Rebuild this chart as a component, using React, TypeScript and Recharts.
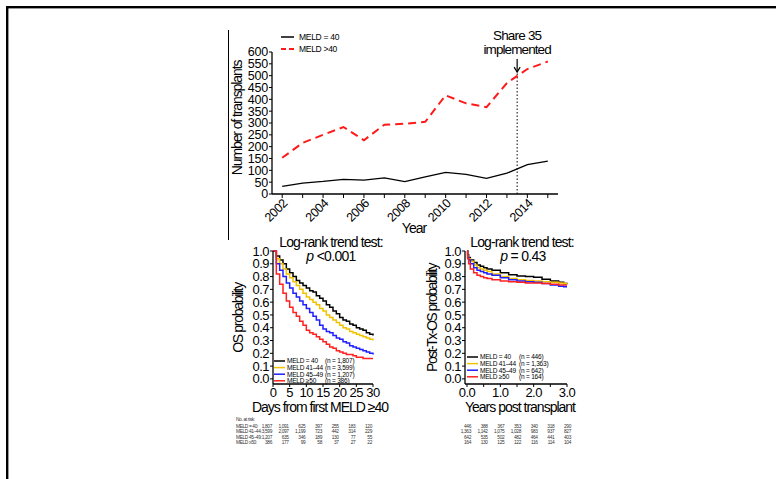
import { LineChart, Line, XAxis, YAxis, ReferenceLine, ReferenceDot } from "recharts";

const FONT = "'Liberation Sans', Arial, Helvetica, sans-serif";

// top panel: transplants per year
const years = [2002, 2003, 2004, 2005, 2006, 2007, 2008, 2009, 2010, 2011, 2012, 2013, 2014, 2015];
const txMeld40 = [32, 46, 53, 62, 59, 68, 52, 72, 91, 83, 66, 88, 124, 139];
const txMeldOver40 = [153, 216, 250, 283, 227, 293, 297, 305, 417, 383, 367, 469, 528, 560];
const countTicks = [0, 50, 100, 150, 200, 250, 300, 350, 400, 450, 500, 550, 600];
const share35Year = 2013.5;
const topSeries = ["MELD = 40", "MELD >40"];

// waitlist survival by day
const waitDays = [0, 1, 2, 3, 4, 5, 6, 7, 8, 9, 10, 11, 12, 13, 14, 15, 16, 17, 18, 19, 20, 21, 22, 23, 24, 25, 26, 27, 28, 29, 30];
const waitM40 = [1.0, 0.96, 0.93, 0.9, 0.86, 0.83, 0.8, 0.77, 0.75, 0.73, 0.71, 0.69, 0.68, 0.65, 0.63, 0.61, 0.58, 0.56, 0.53, 0.51, 0.48, 0.46, 0.45, 0.43, 0.42, 0.4, 0.39, 0.38, 0.36, 0.35, 0.34];
const waitM41 = [1.0, 0.94, 0.9, 0.86, 0.82, 0.79, 0.76, 0.73, 0.7, 0.67, 0.64, 0.62, 0.6, 0.58, 0.55, 0.53, 0.5, 0.48, 0.46, 0.44, 0.42, 0.4, 0.39, 0.37, 0.36, 0.35, 0.34, 0.33, 0.32, 0.31, 0.3];
const waitM45 = [1.0, 0.9, 0.85, 0.8, 0.75, 0.71, 0.67, 0.64, 0.61, 0.58, 0.55, 0.52, 0.49, 0.46, 0.42, 0.39, 0.37, 0.36, 0.34, 0.32, 0.31, 0.29, 0.28, 0.26, 0.25, 0.24, 0.23, 0.22, 0.21, 0.2, 0.19];
const waitM50 = [1.0, 0.82, 0.74, 0.67, 0.61, 0.56, 0.52, 0.49, 0.45, 0.42, 0.38, 0.36, 0.35, 0.33, 0.31, 0.29, 0.27, 0.25, 0.24, 0.22, 0.21, 0.2, 0.19, 0.19, 0.18, 0.17, 0.17, 0.16, 0.16, 0.16, 0.16];
const dayTicks = [0, 5, 10, 15, 20, 25, 30];

// post-transplant survival by year
const postYears = [0, 0.02, 0.05, 0.1, 0.2, 0.3, 0.4, 0.5, 0.6, 0.75, 1.0, 1.25, 1.5, 1.75, 2.0, 2.25, 2.5, 2.75, 2.9, 3.0];
const postM40 = [1.0, 0.97, 0.95, 0.93, 0.91, 0.89, 0.88, 0.87, 0.86, 0.85, 0.83, 0.815, 0.805, 0.8, 0.795, 0.78, 0.765, 0.755, 0.745, 0.74];
const postM41 = [1.0, 0.96, 0.94, 0.92, 0.89, 0.87, 0.86, 0.85, 0.84, 0.82, 0.8, 0.785, 0.775, 0.77, 0.765, 0.76, 0.755, 0.75, 0.745, 0.74];
const postM45 = [1.0, 0.95, 0.93, 0.9, 0.87, 0.85, 0.84, 0.83, 0.82, 0.81, 0.79, 0.775, 0.765, 0.76, 0.755, 0.745, 0.735, 0.725, 0.72, 0.72];
const postM50 = [1.0, 0.94, 0.9, 0.86, 0.83, 0.81, 0.8, 0.79, 0.785, 0.775, 0.765, 0.76, 0.755, 0.75, 0.75, 0.745, 0.74, 0.735, 0.735, 0.735];
const postTicks = [0, 0.5, 1, 1.5, 2, 2.5, 3];

const probTicks = [0, 0.1, 0.2, 0.3, 0.4, 0.5, 0.6, 0.7, 0.8, 0.9, 1.0];

const groups = ["MELD = 40", "MELD 41\u201344", "MELD 45\u201349", "MELD \u226550"];
const groupColors = ["#000000", "#f2c200", "#1f1fff", "#ff2020"];
const waitN = ["(n = 1,807)", "(n = 3,599)", "(n = 1,207)", "(n = 386)"];
const postN = ["(n = 446)", "(n = 1,363)", "(n = 642)", "(n = 164)"];
const riskLabels = ["MELD = 40:", "MELD 41\u201344:", "MELD 45\u201349:", "MELD \u226550:"];
const waitAtRisk = [
  ["1,807", "1,091", "625", "397", "255", "183", "120"],
  ["3,599", "2,097", "1,199", "723", "442", "314", "229"],
  ["1,207", "635", "346", "189", "130", "77", "55"],
  ["386", "177", "99", "58", "37", "27", "22"],
];
const postAtRisk = [
  ["446", "388", "367", "353", "340", "318", "290"],
  ["1,363", "1,142", "1,075", "1,028", "983", "937", "827"],
  ["642", "535", "502", "482", "464", "441", "403"],
  ["164", "130", "125", "122", "116", "114", "104"],
];

const topData = years.map((year, i) => ({ year, m40: txMeld40[i], over40: txMeldOver40[i] }));
const waitData = waitDays.map((d, i) => ({ d, s0: waitM40[i], s1: waitM41[i], s2: waitM45[i], s3: waitM50[i] }));
const postData = postYears.map((t, i) => ({ t, s0: postM40[i], s1: postM41[i], s2: postM45[i], s3: postM50[i] }));

// km panel geometry (shared with the at-risk tables)
const W_LEFT = 225, W_PLOT_L = 273, W_PLOT_W = 100;
const P_LEFT = 415, P_PLOT_L = 465, P_PLOT_W = 102, P_MIN = -0.06;
const KM_TOP = 235;

const axisStyle = { stroke: "#000", strokeWidth: 1.3 };

function YearTick({ x, y, payload }: any) {
  if (payload.value % 2 !== 0) return <g />;
  const ax = x + 6;
  const ay = y + 4;
  return (
    <text x={ax} y={ay} transform={`rotate(-45 ${ax} ${ay})`} textAnchor="end" fontSize={12.5} fontFamily={FONT} fill="#000" letterSpacing={-0.4}>
      {payload.value}
    </text>
  );
}

function ShareNote({ cx, cy }: any) {
  return (
    <g fontFamily={FONT} fill="#000">
      <text x={cx} y={cy - 32} textAnchor="middle" fontSize={13.5} letterSpacing={-0.8}>Share 35</text>
      <text x={cx} y={cy - 18} textAnchor="middle" fontSize={13.5} letterSpacing={-0.9}>implemented</text>
      <line x1={cx} y1={cy - 13} x2={cx} y2={cy} stroke="#000" strokeWidth={1.2} />
      <path d={`M${cx - 3},${cy - 5} L${cx},${cy} L${cx + 3},${cy - 5}`} fill="none" stroke="#000" strokeWidth={1.2} />
    </g>
  );
}

const kmTick = { fontSize: 13, fill: "#000", fontFamily: FONT, letterSpacing: -0.5 };

function TopChart() {
  return (
    <div style={{ position: "absolute", left: 200, top: 20 }}>
      <LineChart width={380} height={230} data={topData} margin={{ top: 32, right: 22, bottom: 6, left: 0 }} style={{ overflow: "visible" }}>
        <XAxis dataKey="year" type="number" domain={[2001.5, 2015.5]} ticks={years} interval={0} height={50} tick={<YearTick />} tickSize={4} axisLine={axisStyle} tickLine={{ stroke: "#000" }} />
        <YAxis domain={[0, 600]} ticks={countTicks} interval={0} width={72} tickSize={3} tickMargin={1} axisLine={axisStyle} tickLine={{ stroke: "#000" }} tick={{ fontSize: 12.5, fill: "#000", fontFamily: FONT, letterSpacing: -0.2 }} />
        <ReferenceLine segment={[{ x: share35Year, y: 0 }, { x: share35Year, y: 515 }]} stroke="#000" strokeWidth={1} strokeDasharray="1.5 2" />
        <ReferenceDot x={share35Year} y={515} shape={(p: any) => <ShareNote {...p} />} />
        <Line dataKey="m40" stroke="#000" strokeWidth={1.3} dot={false} isAnimationActive={false} />
        <Line dataKey="over40" stroke="#ff1a1a" strokeWidth={2} strokeDasharray="8 5" dot={false} isAnimationActive={false} />
      </LineChart>
    </div>
  );
}

function WaitChart() {
  return (
    <div style={{ position: "absolute", left: W_LEFT, top: KM_TOP }}>
      <LineChart width={170} height={169} data={waitData} margin={{ top: 16, right: 22, bottom: 0, left: 0 }}>
        <XAxis dataKey="d" type="number" domain={[0, 30]} ticks={dayTicks} interval={0} height={20} tickSize={3} tickMargin={1} axisLine={axisStyle} tickLine={{ stroke: "#000" }} tick={kmTick} />
        <YAxis domain={[-0.04, 1]} ticks={probTicks} interval={0} width={W_PLOT_L - W_LEFT} tickSize={3} tickMargin={1} axisLine={axisStyle} tickLine={{ stroke: "#000" }} tick={kmTick} tickFormatter={(v: number) => v.toFixed(1)} />
        {["s0", "s1", "s2", "s3"].map((k, i) => (
          <Line key={k} dataKey={k} type="stepAfter" stroke={groupColors[i]} strokeWidth={1.5} dot={false} isAnimationActive={false} />
        ))}
      </LineChart>
    </div>
  );
}

function PostChart() {
  return (
    <div style={{ position: "absolute", left: P_LEFT, top: KM_TOP }}>
      <LineChart width={175} height={169} data={postData} margin={{ top: 16, right: 23, bottom: 0, left: 0 }}>
        <XAxis dataKey="t" type="number" domain={[P_MIN, 3]} ticks={postTicks} interval={0} height={20} tickSize={3} tickMargin={1} axisLine={axisStyle} tickLine={{ stroke: "#000" }} tick={kmTick} tickFormatter={(v: number) => (Number.isInteger(v) ? v.toFixed(1) : "")} />
        <YAxis domain={[-0.04, 1]} ticks={probTicks} interval={0} width={P_PLOT_L - P_LEFT} tickSize={3} tickMargin={1} axisLine={axisStyle} tickLine={{ stroke: "#000" }} tick={kmTick} tickFormatter={(v: number) => v.toFixed(1)} />
        {["s0", "s1", "s2", "s3"].map((k, i) => (
          <Line key={k} dataKey={k} type="stepAfter" stroke={groupColors[i]} strokeWidth={1.5} dot={false} isAnimationActive={false} />
        ))}
      </LineChart>
    </div>
  );
}

function KmLegend({ x, y, n, nx }: { x: number; y: number; n: string[]; nx: number }) {
  return (
    <g fontFamily={FONT} fontSize={6.5} fill="#000">
      {groups.map((g, i) => (
        <g key={g}>
          <line x1={x} x2={x + 11} y1={y + i * 6.6} y2={y + i * 6.6} stroke={groupColors[i]} strokeWidth={1.5} />
          <text x={x + 13} y={y + i * 6.6 + 2.3} letterSpacing={-0.2}>{g}</text>
          <text x={nx} y={y + i * 6.6 + 2.3} letterSpacing={-0.2}>{n[i]}</text>
        </g>
      ))}
    </g>
  );
}

function Overlay() {
  const wCols = dayTicks.map((t) => W_PLOT_L + (t / 30) * W_PLOT_W);
  const pCols = [0, 0.5, 1, 1.5, 2, 2.5, 3].map((t) => P_PLOT_L + ((t - P_MIN) / (3 - P_MIN)) * P_PLOT_W + 4);
  const rowY = [427.5, 433, 438.5, 444];
  return (
    <svg width={776} height={479} style={{ position: "absolute", left: 0, top: 0 }} fontFamily={FONT}>
      <rect x={6} y={6} width={770} height={2.4} fill="#000" />
      <rect x={6} y={6} width={2.4} height={473} fill="#000" />
      <line x1={228.5} x2={228.5} y1={30} y2={240} stroke="#000" strokeWidth={1} />

      {/* top legend */}
      <line x1={281} x2={294} y1={37} y2={37} stroke="#000" strokeWidth={1.5} />
      <text x={299} y={40} fontSize={8.5} letterSpacing={-0.3}>{topSeries[0]}</text>
      <line x1={281} x2={294} y1={49} y2={49} stroke="#ff1a1a" strokeWidth={1.8} strokeDasharray="5 3" />
      <text x={299} y={52} fontSize={8.5} letterSpacing={-0.3}>{topSeries[1]}</text>

      {/* top axis titles */}
      <text transform="translate(242 118) rotate(-90)" textAnchor="middle" fontSize={14} letterSpacing={-1.1}>Number of transplants</text>
      <text x={414} y={233} textAnchor="middle" fontSize={14} letterSpacing={-1}>Year</text>

      {/* km titles */}
      <text x={331} y={247} textAnchor="middle" fontSize={14} letterSpacing={-0.9}>Log-rank trend test:</text>
      <text x={331} y={261} textAnchor="middle" fontSize={14} letterSpacing={-0.7}>
        <tspan fontStyle="italic">p</tspan> &lt;0.001
      </text>
      <text x={522} y={247} textAnchor="middle" fontSize={14} letterSpacing={-0.9}>Log-rank trend test:</text>
      <text x={523} y={261} textAnchor="middle" fontSize={14} letterSpacing={-0.7}>
        <tspan fontStyle="italic">p</tspan> = 0.43
      </text>
      <text transform="translate(243 318) rotate(-90)" textAnchor="middle" fontSize={14} letterSpacing={-1.3}>OS probability</text>
      <text transform="translate(437 318) rotate(-90)" textAnchor="middle" fontSize={14} letterSpacing={-1.5}>Post-Tx-OS probability</text>
      <text x={320} y={412} textAnchor="middle" fontSize={14} letterSpacing={-1}>Days from first MELD ≥40</text>
      <text x={520} y={412} textAnchor="middle" fontSize={14} letterSpacing={-1}>Years post transplant</text>

      <KmLegend x={274} y={361} n={waitN} nx={325} />
      <KmLegend x={467} y={357} n={postN} nx={519} />

      {/* numbers at risk */}
      <g fontSize={4.8} fill="#333" letterSpacing={-0.35}>
        <text x={236} y={421}>No. at risk:</text>
        {riskLabels.map((l, r) => (
          <g key={l}>
            <text x={236} y={rowY[r]}>{l}</text>
            {waitAtRisk[r].map((v, c) => (
              <text key={c} x={wCols[c] - 1} y={rowY[r]} textAnchor="end">{v}</text>
            ))}
            {postAtRisk[r].map((v, c) => (
              <text key={c} x={pCols[c]} y={rowY[r]} textAnchor="end">{v}</text>
            ))}
          </g>
        ))}
      </g>
    </svg>
  );
}

export default function App() {
  return (
    <div style={{ position: "absolute", left: 0, top: 0, width: 776, height: 479, background: "#fff", fontFamily: FONT, overflow: "hidden" }}>
      <Overlay />
      <TopChart />
      <WaitChart />
      <PostChart />
    </div>
  );
}
